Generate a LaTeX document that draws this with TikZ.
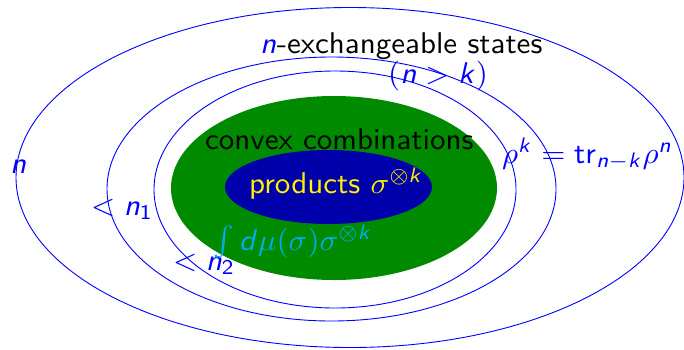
\documentclass[tikz,border=0pt]{standalone}
\usepackage{amsmath}
\usepackage{graphicx}
\DeclareSymbolFont{sfit}{OT1}{cmss}{m}{sl}
\DeclareSymbolFont{sfup}{OT1}{cmss}{m}{n}
\DeclareMathSymbol{n}{\mathalpha}{sfit}{`n}
\DeclareMathSymbol{k}{\mathalpha}{sfit}{`k}
\DeclareMathSymbol{d}{\mathalpha}{sfit}{`d}
\DeclareMathSymbol{1}{\mathalpha}{sfup}{`1}
\DeclareMathSymbol{2}{\mathalpha}{sfup}{`2}
\definecolor{setgreen}{RGB}{0,138,0}
\definecolor{setnavy}{RGB}{0,0,170}
\newcommand\sx[1]{\scalebox{3.1}[3.0]{#1}}
\tikzset{
  ring/.style={draw=blue, line width=0.9pt},
  lbl/.style={inner sep=0pt, anchor=base west, font=\fontsize{10}{12}\selectfont\sffamily},
}
\begin{document}
\begin{tikzpicture}[x=1pt, y=-1pt]
\useasboundingbox (0,0) rectangle (684,349);
% rings
\draw[ring] (350,177.5) ellipse [x radius=334pt, y radius=170pt];
\draw[ring] (331.5,189) ellipse [x radius=224.5pt, y radius=132pt];
\draw[ring] (335,189.5) ellipse [x radius=181pt, y radius=118.5pt];
% filled sets
\fill[setgreen] (334,188) ellipse [x radius=163pt, y radius=92pt];
\fill[setnavy] (328.5,187) ellipse [x radius=103.5pt, y radius=37pt];
% labels
\node[lbl] (ex) at (260,53) {\sx{\textcolor{blue}{$n$}-exchangeable states}};
\node[lbl, text=blue] (nk) at (388,83) {\sx{$(n>k)$}};
\node[lbl, text=blue] (n0) at (10,173) {\sx{$n$}};
\node[lbl, text=blue] (n1) at (91,215) {\sx{$<n_1$}};
\node[lbl, text=blue] (n2) at (173,270) {\sx{$<n_2$}};
\node[lbl, text=blue] (tr) at (502,163) {\sx{$\rho^k=\mathsf{tr}_{n-k}\rho^n$}};
\node[lbl] (cc) at (205,149) {\sx{convex combinations}};
\node[lbl, text=yellow] (pr) at (249,193) {\sx{products $\sigma^{\otimes k}$}};
\node[lbl, text=cyan] (int) at (213,250) {\sx{$\int d\mu(\sigma)\sigma^{\otimes k}$}};
\end{tikzpicture}
\end{document}
